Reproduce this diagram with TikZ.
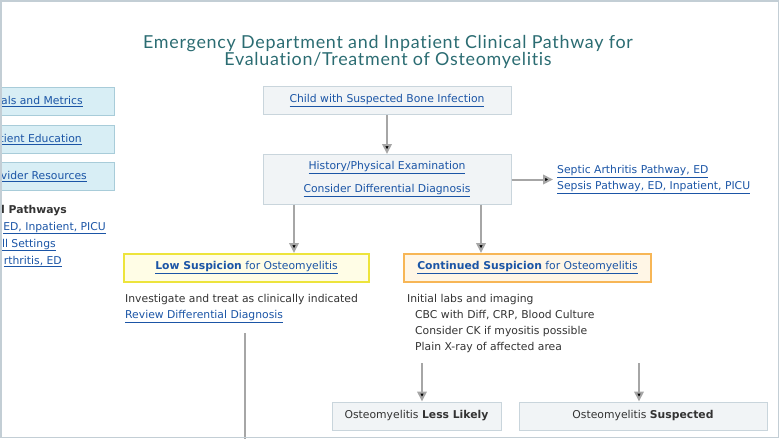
\documentclass[tikz,border=0pt]{standalone}
\usepackage{fontspec}
\setmainfont{DejaVu Sans}
\newfontfamily\titlefont[Ligatures=NoCommon, LetterSpace=4]{Lato}
\usetikzlibrary{arrows.meta}

\definecolor{linkblue}{HTML}{1B55A6}
\definecolor{titleteal}{HTML}{2B6C72}
\definecolor{arrowgray}{HTML}{A6A6A6}
\definecolor{boxfill}{HTML}{F1F4F6}
\definecolor{boxline}{HTML}{C9D5DC}
\definecolor{sidefill}{HTML}{D8EEF5}
\definecolor{sideline}{HTML}{A8CCD9}
\definecolor{lowfill}{HTML}{FFFDE6}
\definecolor{lowline}{HTML}{EDE43C}
\definecolor{contfill}{HTML}{FFF6E6}
\definecolor{contline}{HTML}{F7B656}
\definecolor{textgray}{HTML}{333333}
\definecolor{framegray}{HTML}{C3CED5}

\newcommand{\lnk}[1]{\textcolor{linkblue}{\underline{#1}}}
\newcommand{\bodyfont}{\fontsize{10.8}{16}\selectfont}

\tikzset{
  box/.style={draw=boxline, fill=boxfill, line width=1pt, minimum height=28pt, inner sep=0pt, text=textgray},
  sidebox/.style={draw=sideline, fill=sidefill, line width=1pt, minimum height=28pt, minimum width=160pt},
  lowbox/.style={box, draw=lowline, fill=lowfill, line width=2pt},
  contbox/.style={box, draw=contline, fill=contfill, line width=2pt},
  arr/.style={draw=arrowgray, line width=2pt},
  plain/.style={inner sep=0pt, text=textgray},
}

\begin{document}
\begin{tikzpicture}[x=1pt, y=-1pt, font=\bodyfont, >={Triangle[length=10pt,width=9.5pt]}]
\useasboundingbox (0,0) rectangle (780,439);
\clip (0,0) rectangle (780,439);

% title
\node[font=\titlefont\fontsize{17.9}{17}\selectfont, text=titleteal, align=center] (title) at (388,52)
  {Emergency Department and Inpatient Clinical Pathway for\\Evaluation/Treatment of Osteomyelitis};

% side menu, cut at the left edge
\foreach \y/\e/\txt in {101/83/als and Metrics, 139/82/tient Education, 176/87/vider Resources}{
  \node[sidebox] (side\y) at (34,\y) {};
  \node[anchor=base east, inner sep=0pt] (sidetxt\y) at (\e,\y+3.5) {\lnk{\txt}};
}
\node[plain, anchor=base east] (pathhead) at (67,213.5) {\textbf{d Pathways}};
\foreach \y/\e/\txt in {230/106/{ED, Inpatient, PICU}, 247/56/ll Settings, 264/62/{rthritis, ED}}
  \node[inner sep=0pt, anchor=base east] (path\y) at (\e,\y) {\lnk{\txt}};

% main flow
\node[box, minimum width=248pt] (child) at (387,100.5) {\lnk{Child with Suspected Bone Infection}};
\node[box, minimum width=248pt, minimum height=50pt, align=center] (hist) at (387,179.5)
  {\lnk{History/Physical Examination}\\[7pt]\lnk{Consider Differential Diagnosis}};
\node[anchor=west, inner sep=4pt, align=left, font=\fontsize{10.8}{16.5}\selectfont] (septic) at (553,179.5)
  {\lnk{Septic Arthritis Pathway, ED}\\\lnk{Sepsis Pathway, ED, Inpatient, PICU}};
\draw[arr] (child) edge[->] (hist) (hist.east) edge[->] (septic.west);

\node[lowbox, minimum width=245pt] (low) at (246.5,268) {\lnk{\textbf{Low Suspicion} for Osteomyelitis}};
\node[contbox, minimum width=247pt] (cont) at (527.5,268) {\lnk{\textbf{Continued Suspicion} for Osteomyelitis}};
\coordinate (h1) at (294,204.5); \coordinate (h2) at (481,204.5);
\draw[arr] (h1) edge[->] (h1 |- low.north) (h2) edge[->] (h2 |- cont.north);

\node[plain, anchor=base west] (lowinv) at (125,302.5) {Investigate and treat as clinically indicated};
\node[plain, anchor=base west] (lowrev) at (125,318.5) {\lnk{Review Differential Diagnosis}};
\coordinate (lowtop) at (245,333); \coordinate (lowbot) at (245,439);
\draw[arr] (lowtop) -- (lowbot);

\foreach \y/\x/\txt [count=\k] in {302.5/407/Initial labs and imaging, 318.5/415/{CBC with Diff, CRP, Blood Culture},
    334.5/415/Consider CK if myositis possible, 350.5/415/Plain X-ray of affected area}
  \node[plain, anchor=base west] (labs\k) at (\x,\y) {\txt};

\node[box, minimum width=169pt] (less) at (416.5,416) {Osteomyelitis \textbf{Less Likely}};
\node[box, minimum width=248pt] (susp) at (643,416) {Osteomyelitis \textbf{Suspected}};
\coordinate (c1) at (422,363); \coordinate (c2) at (639,363);
\draw[arr] (c1) edge[->] (c1 |- less.north) (c2) edge[->] (c2 |- susp.north);

% frame
\draw[framegray, line width=1.5pt] (1,1) rectangle (778.5,437.5);
\end{tikzpicture}
\end{document}
